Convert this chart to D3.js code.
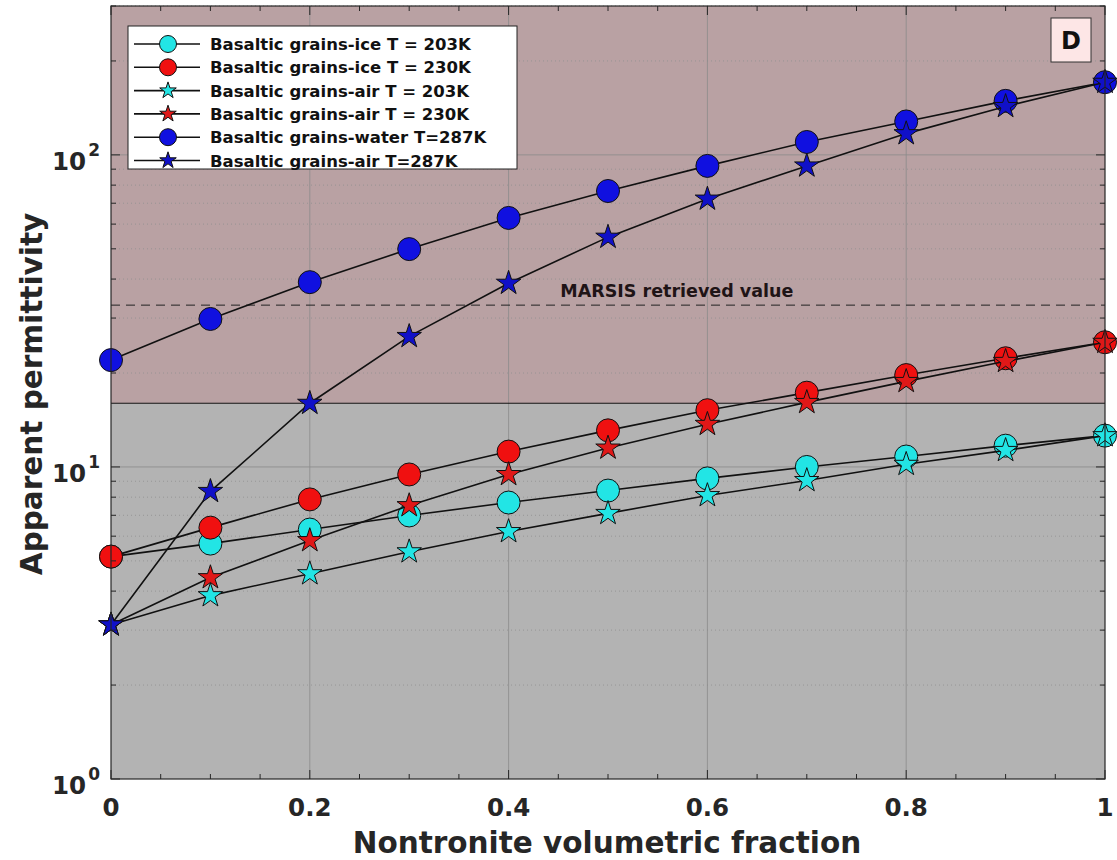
<!DOCTYPE html>
<html>
<head>
<meta charset="utf-8">
<script src="https://cdn.jsdelivr.net/npm/d3@7"></script>
<style>
  html, body { margin: 0; padding: 0; background: #fff; }
  svg { display: block; font-family: "DejaVu Sans", sans-serif; }
</style>
</head>
<body>
<div id="chart"></div>
<script>
// Nontronite volumetric fraction
const fractions = [0, 0.1, 0.2, 0.3, 0.4, 0.5, 0.6, 0.7, 0.8, 0.9, 1.0];

// Apparent permittivity per mixture
const iceT203 = [5.16, 5.68, 6.30, 6.99, 7.69, 8.40, 9.19, 10.0, 10.8, 11.7, 12.6];
const iceT230 = [5.16, 6.39, 7.87, 9.46, 11.2, 13.1, 15.2, 17.3, 19.7, 22.3, 25.1];
const airT203 = [3.12, 3.87, 4.55, 5.35, 6.21, 7.10, 8.10, 9.05, 10.2, 11.3, 12.6];
const airT230 = [3.12, 4.42, 5.81, 7.52, 9.46, 11.5, 13.7, 16.1, 18.8, 21.8, 25.1];
const waterT287 = [22.0, 29.8, 39.1, 49.9, 62.8, 76.6, 92.2, 110, 128, 149, 171];
const airT287 = [3.12, 8.35, 16.0, 26.2, 38.8, 54.5, 72.2, 92.2, 117, 143, 171];

const xTicks = [0, 0.2, 0.4, 0.6, 0.8, 1];
const xTickLabels = ['0', '0.2', '0.4', '0.6', '0.8', '1'];
const yTicks = [1, 10, 100];
const yTickExponents = ['0', '1', '2'];

const shadeThreshold = 16;   // boundary between the two shaded zones
const marsisValue = 33;      // MARSIS retrieved value

const series = [
  { name: 'Basaltic grains-ice T = 203K', values: iceT203, fill: '#22e5e5', marker: 'circle' },
  { name: 'Basaltic grains-ice T = 230K', values: iceT230, fill: '#f01010', marker: 'circle' },
  { name: 'Basaltic grains-air T = 203K', values: airT203, fill: '#22e5e5', marker: 'star' },
  { name: 'Basaltic grains-air T = 230K', values: airT230, fill: '#e01818', marker: 'star' },
  { name: 'Basaltic grains-water T=287K', values: waterT287, fill: '#1010e0', marker: 'circle' },
  { name: 'Basaltic grains-air T=287K', values: airT287, fill: '#1010c8', marker: 'star' },
];

const width = 1117, height = 860;
const margin = { top: 6, right: 12, bottom: 81, left: 111 };
const W = width - margin.left - margin.right;
const H = height - margin.top - margin.bottom;

const x = d3.scaleLinear().domain([0, 1]).range([0, W]);
const y = d3.scaleLog().domain([1, 300]).range([H, 0]);

const svg = d3.select('#chart').append('svg')
  .attr('width', width).attr('height', height);

const g = svg.append('g').attr('transform', `translate(${margin.left},${margin.top})`);

// Background zones
g.append('rect')
  .attr('x', 0).attr('y', 0).attr('width', W).attr('height', y(shadeThreshold))
  .attr('fill', '#b9a1a3');
g.append('rect')
  .attr('x', 0).attr('y', y(shadeThreshold)).attr('width', W).attr('height', H - y(shadeThreshold))
  .attr('fill', '#b3b3b3');

// Minor gridlines (dotted)
const minorY = [];
[1, 10, 100].forEach(d => { for (let k = 2; k <= 9; k++) if (d * k <= 300) minorY.push(d * k); });
g.append('g').selectAll('line').data(minorY).join('line')
  .attr('x1', 0).attr('x2', W)
  .attr('y1', d => y(d)).attr('y2', d => y(d))
  .attr('stroke', '#8f8f8f').attr('stroke-width', 0.8).attr('stroke-dasharray', '1,3');

// Major gridlines
g.append('g').selectAll('line').data(yTicks.slice(1)).join('line')
  .attr('x1', 0).attr('x2', W)
  .attr('y1', d => y(d)).attr('y2', d => y(d))
  .attr('stroke', '#8a8a8a').attr('stroke-width', 0.8);
g.append('g').selectAll('line').data(xTicks.slice(1, -1)).join('line')
  .attr('x1', d => x(d)).attr('x2', d => x(d))
  .attr('y1', 0).attr('y2', H)
  .attr('stroke', '#8a8a8a').attr('stroke-width', 0.8);

// Zone boundary
g.append('line')
  .attr('x1', 0).attr('x2', W)
  .attr('y1', y(shadeThreshold)).attr('y2', y(shadeThreshold))
  .attr('stroke', '#111').attr('stroke-width', 1.2);

// MARSIS line
g.append('line')
  .attr('x1', 0).attr('x2', W)
  .attr('y1', y(marsisValue)).attr('y2', y(marsisValue))
  .attr('stroke', '#222').attr('stroke-width', 1).attr('stroke-dasharray', '9,6');
g.append('text')
  .attr('x', x(0.452)).attr('y', y(marsisValue) - 8)
  .attr('font-size', 17.5).attr('font-weight', 'bold').attr('fill', '#1f1416')
  .text('MARSIS retrieved value');

// Series lines and markers
const line = d3.line().x((d, i) => x(fractions[i])).y(d => y(d));
const starPath = d3.symbol().type(d3.symbolStar).size(185)();

series.forEach(s => {
  const sg = g.append('g');
  sg.append('path')
    .attr('d', line(s.values))
    .attr('fill', 'none').attr('stroke', '#111').attr('stroke-width', 1.6);
  if (s.marker === 'circle') {
    sg.selectAll('circle').data(s.values).join('circle')
      .attr('cx', (d, i) => x(fractions[i])).attr('cy', d => y(d))
      .attr('r', 11.5)
      .attr('fill', s.fill).attr('stroke', '#111').attr('stroke-width', 1);
  } else {
    sg.selectAll('path.star').data(s.values).join('path')
      .attr('class', 'star')
      .attr('d', starPath)
      .attr('transform', (d, i) => `translate(${x(fractions[i])},${y(d)})`)
      .attr('fill', s.fill).attr('stroke', '#111').attr('stroke-width', 1);
  }
});

// Axes box and ticks (MATLAB style, inward)
const axisColor = '#262626';
g.append('rect')
  .attr('x', 0).attr('y', 0).attr('width', W).attr('height', H)
  .attr('fill', 'none').attr('stroke', axisColor).attr('stroke-width', 1.2);

const xMinor = d3.range(0, 1.0001, 0.05);
const tickG = g.append('g').attr('stroke', axisColor).attr('stroke-width', 1);
xMinor.forEach(v => {
  const major = xTicks.some(t => Math.abs(t - v) < 1e-6);
  const len = major ? 9 : 5;
  tickG.append('line').attr('x1', x(v)).attr('x2', x(v)).attr('y1', H).attr('y2', H - len);
  tickG.append('line').attr('x1', x(v)).attr('x2', x(v)).attr('y1', 0).attr('y2', len);
});
yTicks.concat(minorY).forEach(v => {
  const major = yTicks.includes(v);
  const len = major ? 9 : 5;
  tickG.append('line').attr('x1', 0).attr('x2', len).attr('y1', y(v)).attr('y2', y(v));
  tickG.append('line').attr('x1', W).attr('x2', W - len).attr('y1', y(v)).attr('y2', y(v));
});

// X tick labels
g.append('g').selectAll('text').data(xTicks).join('text')
  .attr('x', d => x(d)).attr('y', H + 37)
  .attr('text-anchor', 'middle')
  .attr('font-size', 24.5).attr('font-weight', 'bold').attr('fill', axisColor)
  .text((d, i) => xTickLabels[i]);

// Y tick labels as powers of ten
const yl = g.append('g').selectAll('text').data(yTicks).join('text')
  .attr('x', -11).attr('y', d => y(d) + 15)
  .attr('text-anchor', 'end')
  .attr('font-size', 24.5).attr('font-weight', 'bold').attr('fill', axisColor);
yl.append('tspan').text('10');
yl.append('tspan').attr('dx', 2).attr('dy', -14).attr('font-size', 17).text((d, i) => yTickExponents[i]);

// Axis titles
svg.append('text')
  .attr('x', margin.left + W / 2 - 1).attr('y', 853)
  .attr('text-anchor', 'middle')
  .attr('font-size', 29.5).attr('font-weight', 'bold').attr('fill', axisColor)
  .text('Nontronite volumetric fraction');
svg.append('text')
  .attr('transform', `translate(42,394) rotate(-90)`)
  .attr('text-anchor', 'middle')
  .attr('font-size', 29.5).attr('font-weight', 'bold').attr('fill', axisColor)
  .text('Apparent permittivity');

// Panel label
const panel = g.append('g').attr('transform', `translate(${W - 54},12)`);
panel.append('rect').attr('width', 40).attr('height', 44)
  .attr('fill', '#fde6e6').attr('stroke', '#333').attr('stroke-width', 1);
panel.append('text').attr('x', 20).attr('y', 31)
  .attr('text-anchor', 'middle').attr('font-size', 24).attr('font-weight', 'bold').attr('fill', '#111')
  .text('D');

// Legend
const legend = g.append('g').attr('transform', 'translate(17,20)');
legend.append('rect').attr('width', 389).attr('height', 143)
  .attr('fill', '#fff').attr('stroke', '#222').attr('stroke-width', 1);
series.forEach((s, i) => {
  const row = legend.append('g').attr('transform', `translate(0,${18 + i * 23.3})`);
  row.append('line').attr('x1', 6).attr('x2', 72).attr('y1', 0).attr('y2', 0)
    .attr('stroke', '#111').attr('stroke-width', 1.6);
  if (s.marker === 'circle') {
    row.append('circle').attr('cx', 40).attr('cy', 0).attr('r', 8.5)
      .attr('fill', s.fill).attr('stroke', '#111').attr('stroke-width', 1);
  } else {
    row.append('path').attr('d', d3.symbol().type(d3.symbolStar).size(85)())
      .attr('transform', 'translate(40,0)')
      .attr('fill', s.fill).attr('stroke', '#111').attr('stroke-width', 1);
  }
  row.append('text').attr('x', 82).attr('y', 6)
    .attr('font-size', 16.5).attr('font-weight', 'bold').attr('fill', '#111')
    .text(s.name);
});
</script>
</body>
</html>
